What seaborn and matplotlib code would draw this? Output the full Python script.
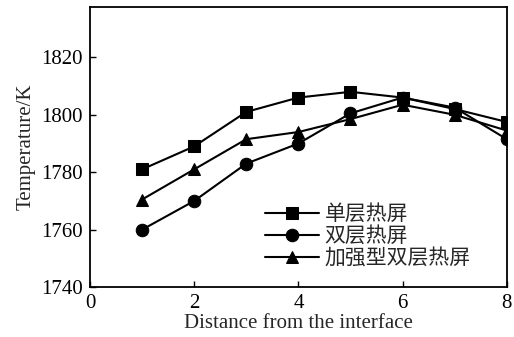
import numpy as np
import pandas as pd
import matplotlib
matplotlib.use("Agg")
import matplotlib.pyplot as plt
import seaborn as sns

# data
distance = [1, 2, 3, 4, 5, 6, 7, 8]
single_layer = [1781, 1789, 1801, 1806, 1808, 1806, 1802, 1797.5]
double_layer = [1760, 1770, 1783, 1790, 1800.5, 1806, 1802.5, 1791.5]
reinforced = [1770.5, 1781, 1791.5, 1794, 1798.5, 1803.5, 1800, 1794.5]
series_names = ["单层热屏", "双层热屏", "加强型双层热屏"]
x_ticks = [0, 2, 4, 6, 8]
y_ticks = [1740, 1760, 1780, 1800, 1820]

sns.set_style("ticks")
plt.rcParams['font.family'] = ['Liberation Serif', 'Noto Sans CJK SC']

fig = plt.figure(figsize=(5.14, 3.37), dpi=100)
ax = fig.add_axes([0.175, 0.148, 0.811, 0.831])

markers = ["s", "o", "^"]
for vals, name, m in zip([single_layer, double_layer, reinforced], series_names, markers):
    df = pd.DataFrame({"x": distance, "y": vals})
    sns.lineplot(data=df, x="x", y="y", ax=ax, color="black", marker=m,
                 markersize=9, markeredgecolor="black", linewidth=1.5,
                 label=name)

ax.set_xlim(0, 8)
ax.set_ylim(1740, 1837.5)
ax.set_xticks(x_ticks)
ax.set_yticks(y_ticks)
ax.tick_params(direction="in", length=4, width=1, labelsize=15, colors="black")
ax.tick_params(axis="x", pad=5)
ax.tick_params(axis="y", pad=5)
for s in ax.spines.values():
    s.set_linewidth(1.3)
    s.set_color("black")
ax.set_xlabel("Distance from the interface", fontsize=15, labelpad=1)
ax.set_ylabel("Temperature/K", fontsize=15, labelpad=4)

leg = ax.legend(loc="upper left", bbox_to_anchor=(0.40, 0.33), frameon=False,
                handlelength=2.6, handletextpad=0.25, labelspacing=0.0,
                borderaxespad=0, prop={'family': 'Noto Sans CJK SC', 'size': 15})

fig.savefig("out.png", dpi=100, facecolor="white")
